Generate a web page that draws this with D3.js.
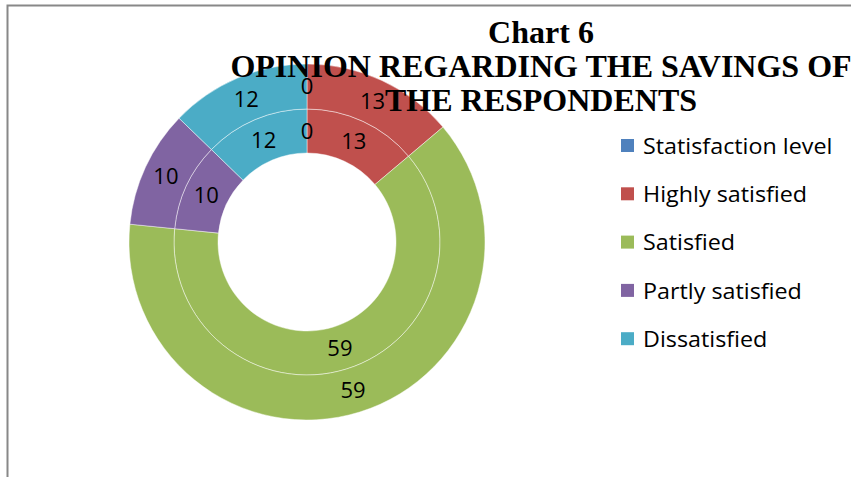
<!DOCTYPE html>
<head>
  <meta charset="utf-8">
  <style>
  body {
    margin: 0;
    background: #fff;
  }

  .label {
    font-family: "Open Sans", sans-serif;
    font-size: 22px;
    fill: #000;
  }

  .legend text {
    font-family: "Open Sans", sans-serif;
    font-size: 22px;
    fill: #000;
  }

  .title {
    font-family: "Liberation Serif", "Times New Roman", serif;
    font-weight: bold;
    font-size: 32px;
    fill: #000;
  }
</style>
</head>
<svg class="chart" width="851" height="477"></svg>

<script src="https://cdn.jsdelivr.net/npm/d3@7"></script>
<script>
// data
var categories = ["Statisfaction level", "Highly satisfied", "Satisfied", "Partly satisfied", "Dissatisfied"];
var innerValues = [0, 13, 59, 10, 12];
var outerValues = [0, 13, 59, 10, 12];
var colors = ["#4f81bd", "#c0504d", "#9bbb59", "#8064a2", "#4bacc6"];
var titleLines = ["Chart 6", "OPINION REGARDING THE SAVINGS OF", "THE RESPONDENTS"];

var svg = d3.select("svg"),
  cx = 307,
  cy = 242;

// frame lines of the page crop
svg.append("path")
  .attr("d", "M7.5,477V5.5H851")
  .attr("fill", "none")
  .attr("stroke", "#888")
  .attr("stroke-width", 2);

// bits of red text cut off above the frame
svg.append("text")
  .attr("y", -6)
  .style("font", "italic bold 22px 'Liberation Serif', serif")
  .attr("fill", "#f00")
  .selectAll("tspan")
  .data([{ x: 23, t: "p" }, { x: 266, t: "," }, { x: 693, t: "," }, { x: 806, t: "," }])
  .enter()
  .append("tspan")
  .attr("x", function(d) { return d.x; })
  .text(function(d) { return d.t; });

var pie = d3.pie().sort(null).value(function(d) { return d; });

var rings = [
  { values: innerValues, inner: 89, outer: 133 },
  { values: outerValues, inner: 133, outer: 178 }
];

var g = svg.append("g").attr("transform", "translate(" + cx + "," + cy + ")");

rings.forEach(function(ring) {
  var arc = d3.arc().innerRadius(ring.inner).outerRadius(ring.outer);
  var arcs = pie(ring.values);

  g.append("g")
    .selectAll("path")
    .data(arcs)
    .enter()
    .append("path")
    .attr("d", arc)
    .attr("fill", function(d, i) { return colors[i]; })
    .attr("stroke", "rgba(255,255,255,0.6)")
    .attr("stroke-width", 0.75);

  ring.arc = arc;
  ring.arcs = arcs;
});

rings.forEach(function(ring) {
  g.append("g")
    .selectAll("text")
    .data(ring.arcs)
    .enter()
    .append("text")
    .attr("class", "label")
    .attr("transform", function(d) { return "translate(" + ring.arc.centroid(d) + ")"; })
    .attr("text-anchor", "middle")
    .attr("dy", "0.35em")
    .text(function(d) { return d.data; });
});

// legend
var legend = svg.append("g")
  .attr("class", "legend")
  .selectAll("g")
  .data(categories)
  .enter()
  .append("g")
  .attr("transform", function(d, i) { return "translate(621," + (146 + i * 48.3) + ")"; });

legend.append("rect")
  .attr("x", 0)
  .attr("y", -7)
  .attr("width", 13)
  .attr("height", 13)
  .attr("fill", function(d, i) { return colors[i]; });

// the source font is a little wider than Open Sans
legend.append("text")
  .attr("transform", "translate(22,0) scale(1.06,1)")
  .attr("dy", "0.35em")
  .text(function(d) { return d; });

// title drawn over the rings
svg.append("g")
  .selectAll("text")
  .data(titleLines)
  .enter()
  .append("text")
  .attr("class", "title")
  .attr("x", 541)
  .attr("y", function(d, i) { return 43 + i * 34; })
  .attr("text-anchor", "middle")
  .text(function(d) { return d; });
</script>
